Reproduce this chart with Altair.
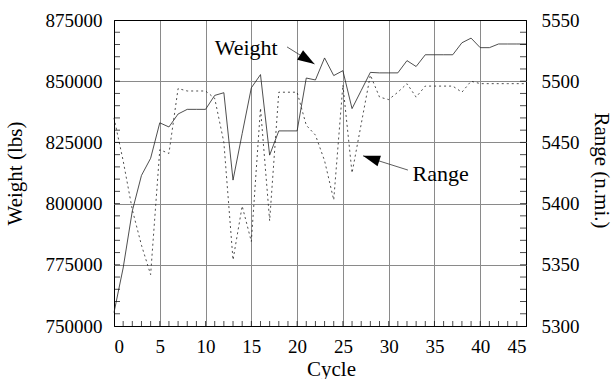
import math
import altair as alt
import pandas as pd

# ---- data -------------------------------------------------------------
cycles = list(range(46))
weight_lbs = [
    755500, 773700, 797000, 811500, 818500, 833000, 831300, 836600, 838500, 838500,
    838500, 844200, 845300, 809600, 828600, 847300, 852700, 819800, 829700, 829700,
    829700, 851300, 850500, 859500, 852300, 854300, 838800, 846200, 853600, 853400,
    853400, 853400, 858400, 856000, 860800, 860800, 860800, 860800, 865700, 867600,
    863700, 863700, 865200, 865200, 865200, 865200,
]
range_nmi = [
    5470, 5435, 5395, 5366, 5342, 5444, 5441, 5494, 5492, 5492,
    5492, 5486, 5450, 5354, 5398, 5369, 5478, 5386, 5491, 5491,
    5491, 5464, 5456, 5435, 5403, 5497, 5425, 5465, 5505, 5487,
    5485, 5491, 5498, 5487, 5496, 5496, 5496, 5496, 5491, 5500,
    5498, 5498, 5498, 5498, 5498, 5498,
]

x_ticks = list(range(0, 50, 5))
w_ticks = list(range(750000, 875001, 25000))
r_ticks = list(range(5300, 5551, 50))
minor_x = list(range(1, 45))
minor_w = list(range(755000, 875000, 5000))

# callout labels (data coordinates: cycle, weight)
labels = ["Weight", "Range"]
label_x = [11.0, 32.6]
label_w = [860700, 809200]
# arrows: tail -> tip, in (cycle, weight)
arrow_x0 = [18.9, 32.1]
arrow_w0 = [864000, 813700]
arrow_x1 = [21.9, 27.2]
arrow_w1 = [857000, 819500]

W, H = 412, 306
X_DOM = [0, 45]
W_DOM = [750000, 875000]
R_DOM = [5300, 5550]
FONT = "Liberation Serif"
GRID = "#8a8a8a"


def px(c, w):
    """Data -> pixel position inside the plot area."""
    return ((c - X_DOM[0]) / (X_DOM[1] - X_DOM[0]) * W,
            (W_DOM[1] - w) / (W_DOM[1] - W_DOM[0]) * H)


angles = []
for a, b, c, d in zip(arrow_x0, arrow_w0, arrow_x1, arrow_w1):
    (x0, y0), (x1, y1) = px(a, b), px(c, d)
    angles.append(math.degrees(math.atan2(y1 - y0, x1 - x0)) % 360)

series = pd.DataFrame({"cycle": cycles, "weight": weight_lbs, "range": range_nmi})
ann = pd.DataFrame({"label": labels, "cycle": label_x, "weight": label_w})
arrows = pd.DataFrame({
    "id": [0, 0, 1, 1],
    "cycle": [arrow_x0[0], arrow_x1[0], arrow_x0[1], arrow_x1[1]],
    "weight": [arrow_w0[0], arrow_w1[0], arrow_w0[1], arrow_w1[1]],
    "order": [0, 1, 0, 1],
})
heads = pd.DataFrame({"cycle": arrow_x1, "weight": arrow_w1, "angle": angles})
mx = pd.DataFrame({"cycle": minor_x})
mw = pd.DataFrame({"weight": minor_w})

edge_x = {"condition": {"test": "datum.value === 0 || datum.value === 45", "value": "black"},
          "value": GRID}
edge_w = {"condition": {"test": "datum.value === 750000 || datum.value === 875000",
                        "value": "black"}, "value": GRID}

x_axis = alt.Axis(values=x_ticks, grid=True, gridColor=edge_x, gridWidth=1,
                  ticks=False, tickSize=0, domain=False,
                  labelFont=FONT, labelFontSize=19, labelColor="black", labelPadding=11,
                  title="Cycle", titleFont=FONT, titleFontSize=21, titleFontWeight="normal",
                  titleColor="black", titleX=217, titleY=49, titleAlign="center",
                  titleBaseline="alphabetic")
x_enc = alt.X("cycle:Q", scale=alt.Scale(domain=X_DOM, nice=False, zero=False), axis=x_axis)

w_scale = alt.Scale(domain=W_DOM, nice=False, zero=False)
r_scale = alt.Scale(domain=R_DOM, nice=False, zero=False)

w_axis = alt.Axis(values=w_ticks, grid=True, gridColor=edge_w, gridWidth=1,
                  ticks=False, tickSize=0, domain=False, format="d",
                  labelFont=FONT, labelFontSize=19, labelColor="black", labelPadding=12,
                  title="Weight (lbs)", titleFont=FONT, titleFontSize=21,
                  titleFontWeight="normal", titleColor="black", titleAngle=270,
                  titleX=-99, titleY=153, titleAlign="center", titleBaseline="middle")
r_axis = alt.Axis(values=r_ticks, grid=False, ticks=False, tickSize=0, domain=False,
                  format="d", orient="right",
                  labelFont=FONT, labelFontSize=19, labelColor="black", labelPadding=15,
                  title="Range (n.mi.)", titleFont=FONT, titleFontSize=21,
                  titleFontWeight="normal", titleColor="black", titleAngle=90,
                  titleX=74, titleY=150, titleAlign="center", titleBaseline="middle")

y_w = alt.Y("weight:Q", scale=w_scale, axis=w_axis)

# weight side: line, inner minor ticks, callouts
weight_line = alt.Chart(series).mark_line(color="#222222", strokeWidth=0.8).encode(
    x=x_enc, y=y_w)

ticks_bottom = alt.Chart(mx).mark_tick(color="black", thickness=1, size=5, orient="vertical").encode(
    x=x_enc, y=alt.value(H - 2.5))
ticks_left = alt.Chart(mw).mark_tick(color="black", thickness=1, size=6, orient="horizontal").encode(
    x=alt.value(3), y=y_w)
ticks_right = alt.Chart(mw).mark_tick(color="black", thickness=1, size=6, orient="horizontal").encode(
    x=alt.value(W - 3), y=y_w)

text = alt.Chart(ann).mark_text(font=FONT, fontSize=22, align="left", baseline="alphabetic",
                                color="black").encode(
    x=x_enc, y=y_w, text="label:N")

shafts = alt.Chart(arrows).mark_line(color="#333333", strokeWidth=0.8).encode(
    x=x_enc, y=y_w, detail="id:N", order="order:Q")

tips = alt.Chart(heads).mark_point(shape="M0,0L-2,-0.66L-2,0.66Z", filled=True, size=289,
                                   color="black", opacity=1).encode(
    x=x_enc, y=y_w, angle=alt.Angle("angle:Q", scale=None))

weight_side = alt.layer(weight_line, ticks_bottom, ticks_left, ticks_right, shafts, tips, text)

# range side
range_line = alt.Chart(series).mark_line(color="#222222", strokeWidth=0.8, strokeDash=[2, 3]).encode(
    x=x_enc, y=alt.Y("range:Q", scale=r_scale, axis=r_axis))

chart = alt.layer(weight_side, range_line).resolve_scale(y="independent").properties(
    width=W, height=H,
    background="white",
    autosize=alt.AutoSizeParams(type="none"),
    padding={"left": 114, "top": 20, "right": 87, "bottom": 53},
).configure_view(stroke="black", strokeWidth=1)

chart.save("out.html", embed_options={"renderer": "svg", "actions": False})
